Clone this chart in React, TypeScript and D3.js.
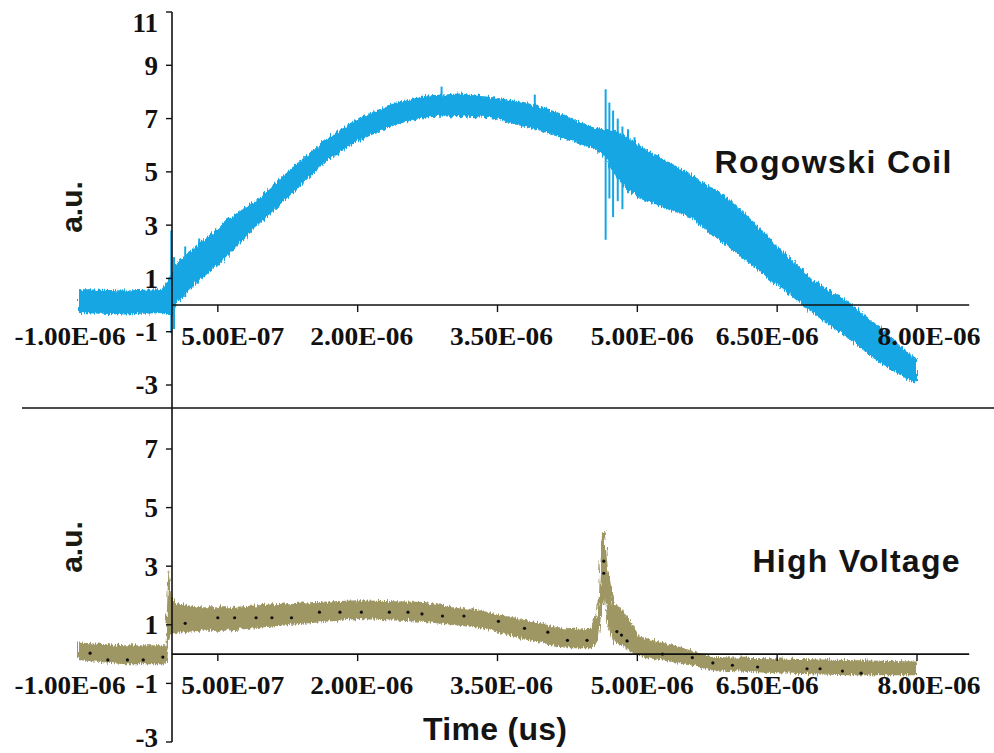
import React from "react";
import * as d3 from "d3";

// time axis (microseconds) and its printed labels
const tickTimes = [-1, 0.5, 2, 3.5, 5, 6.5, 8];
const tickLabels = ["-1.00E-06", "5.00E-07", "2.00E-06", "3.50E-06", "5.00E-06", "6.50E-06", "8.00E-06"];
const labelNudge = [-8, 15, 4, 4, 5, -10, 12];

const topTicks = [-3, -1, 1, 3, 5, 7, 9, 11];
const bottomTicks = [-3, -1, 1, 3, 5, 7];

// Rogowski coil: noisy band, lower / upper envelope
const rogowskiTime = [-1.0, -0.5, -0.1, 0.0, 0.09, 0.3, 0.6, 0.95, 1.3, 1.67, 2.02, 2.38, 2.74, 3.09, 3.45, 3.81, 4.17, 4.52, 4.64, 4.81, 5.02, 5.56, 6.02, 6.5, 6.88, 7.24, 7.6, 7.95, 8.0];
const rogowskiLow = [-0.3, -0.35, -0.3, -0.4, 0.2, 0.9, 1.8, 3.07, 4.2, 5.43, 6.18, 6.74, 7.05, 7.1, 7.0, 6.67, 6.3, 5.9, 5.6, 4.6, 4.0, 3.3, 2.06, 0.75, -0.3, -1.2, -2.17, -2.9, -2.9];
const rogowskiHigh = [0.6, 0.55, 0.6, 1.2, 1.7, 2.3, 3.2, 4.05, 5.17, 6.25, 7.04, 7.57, 7.87, 7.94, 7.8, 7.6, 7.2, 6.67, 6.6, 6.5, 6.0, 4.94, 3.9, 2.25, 0.94, 0.19, -0.82, -1.95, -2.0];
// spikes: time, from, to
const rogowskiSpikeTime = [0.0, 0.03, 0.15, 0.3, 2.9, 3.9, 4.66, 4.7, 4.74, 4.79, 4.84, 4.9, 4.97];
const rogowskiSpikeFrom = [-1.05, -0.9, 0.3, 1.0, 7.5, 7.0, 2.45, 4.0, 3.3, 3.9, 3.6, 4.2, 4.3];
const rogowskiSpikeTo = [2.8, 1.8, 2.2, 2.5, 8.2, 7.9, 8.1, 7.6, 7.3, 7.0, 6.7, 6.6, 6.3];

// High voltage: noisy band
const hvTime = [-1.0, -0.5, -0.06, -0.03, 0.0, 0.05, 0.3, 0.6, 1.3, 2.0, 2.7, 3.3, 3.8, 4.25, 4.5, 4.58, 4.62, 4.65, 4.68, 4.75, 4.85, 5.02, 5.45, 5.8, 6.5, 7.24, 8.0];
const hvLow = [-0.2, -0.35, -0.35, 0.4, 0.7, 0.72, 0.8, 0.8, 1.0, 1.2, 1.1, 0.9, 0.5, 0.2, 0.2, 0.4, 1.5, 2.0, 1.0, 0.4, 0.25, -0.1, -0.3, -0.55, -0.65, -0.72, -0.72];
const hvHigh = [0.4, 0.3, 0.3, 2.9, 2.0, 1.74, 1.6, 1.6, 1.74, 1.84, 1.78, 1.5, 1.16, 0.85, 0.9, 1.5, 4.1, 4.2, 3.0, 1.7, 1.5, 0.6, 0.25, -0.1, -0.15, -0.2, -0.25];
// black sample dots on the voltage trace
const dotTime = [-0.87, -0.68, -0.47, -0.3, -0.09, 0.15, 0.5, 0.68, 0.91, 1.08, 1.29, 1.59, 1.81, 2.04, 2.34, 2.54, 2.69, 2.91, 3.14, 3.51, 3.79, 4.04, 4.25, 4.46, 4.64, 4.64, 4.78, 4.83, 4.89, 5.27, 5.59, 5.81, 6.02, 6.29, 6.82, 6.96, 7.2, 7.4];
const dotValue = [0.03, -0.2, -0.2, -0.2, -0.1, 1.05, 1.24, 1.24, 1.24, 1.24, 1.24, 1.43, 1.43, 1.43, 1.43, 1.43, 1.37, 1.3, 1.3, 1.12, 0.88, 0.75, 0.47, 0.47, 2.76, 3.17, 0.77, 0.65, 0.45, 0.0, -0.12, -0.3, -0.38, -0.44, -0.5, -0.5, -0.58, -0.65];

const W = 994;
const H = 753;
const AXIS_X = 172;
const AXIS_END = 8.56;
const BLUE = "#16a6e4";
const OLIVE = "#9e9664";
const serif = "'Liberation Serif', 'Times New Roman', serif";
const sans = "'Liberation Sans', Arial, sans-serif";

const x = d3.scaleLinear().domain([-1, 8]).range([78, 917]);
const yTop = d3.scaleLinear().domain([-3, 11]).range([385, 12]);
const yBot = d3.scaleLinear().domain([-3, 7]).range([742, 449]);

const band = (t: number[], lo: number[], hi: number[], y: d3.ScaleLinear<number, number>) =>
  d3
    .area<number>()
    .x((i) => x(t[i]))
    .y0((i) => y(lo[i]))
    .y1((i) => y(hi[i]))(d3.range(t.length)) || "";

const Panel = ({ y, ticks }: { y: d3.ScaleLinear<number, number>; ticks: number[] }) => {
  const y0 = y(0);
  return (
    <g>
      <line x1={AXIS_X} x2={x(AXIS_END)} y1={y0} y2={y0} stroke="#111" strokeWidth={1.6} />
      {tickTimes.map((t, i) => (
        <g key={t}>
          {t > 0 && <line x1={x(t)} x2={x(t)} y1={y0} y2={y0 + 7} stroke="#111" strokeWidth={1.4} />}
          <text
            x={x(t) + labelNudge[i]}
            y={y0 + 40}
            textAnchor="middle"
            fontFamily={serif}
            fontWeight="bold"
            fontSize={25}
            fill="#111"
            textLength={i === 0 ? 111 : 103}
            lengthAdjust="spacingAndGlyphs"
          >
            {tickLabels[i]}
          </text>
        </g>
      ))}
      {ticks.map((v) => (
        <g key={v}>
          <line x1={AXIS_X - 6} x2={AXIS_X} y1={y(v)} y2={y(v)} stroke="#111" strokeWidth={1.4} />
          <text
            x={AXIS_X - 14}
            y={Math.min(Math.max(y(v), 23), 738)}
            dy="0.35em"
            textAnchor="end"
            fontFamily={serif}
            fontWeight="bold"
            fontSize={27}
            fill="#111"
          >
            {v}
          </text>
        </g>
      ))}
    </g>
  );
};

const App = () => {
  return (
    <svg width={W} height={H} style={{ position: "absolute", left: 0, top: 0, background: "#fff" }}>
      <defs>
        <filter id="rough" x="-5%" y="-20%" width="110%" height="140%">
          <feTurbulence type="fractalNoise" baseFrequency="0.7 0.08" numOctaves={2} seed={4} />
          <feDisplacementMap in="SourceGraphic" scale={7} xChannelSelector="R" yChannelSelector="G" />
        </filter>
      </defs>

      {/* Rogowski coil trace */}
      <g filter="url(#rough)">
        <path d={band(rogowskiTime, rogowskiLow, rogowskiHigh, yTop)} fill={BLUE} />
      </g>
      {rogowskiSpikeTime.map((t, i) => (
        <line
          key={i}
          x1={x(t)}
          x2={x(t)}
          y1={yTop(rogowskiSpikeFrom[i])}
          y2={yTop(rogowskiSpikeTo[i])}
          stroke={BLUE}
          strokeWidth={2}
        />
      ))}

      {/* High voltage trace */}
      <g filter="url(#rough)">
        <path d={band(hvTime, hvLow, hvHigh, yBot)} fill={OLIVE} />
      </g>
      {dotTime.map((t, i) => (
        <circle key={i} cx={x(t)} cy={yBot(dotValue[i])} r={1.6} fill="#111" />
      ))}

      {/* axes on top of the traces */}
      <Panel y={yTop} ticks={topTicks} />
      <Panel y={yBot} ticks={bottomTicks} />
      <line x1={AXIS_X} x2={AXIS_X} y1={yTop(11)} y2={yBot(-3)} stroke="#111" strokeWidth={1.6} />
      <line x1={22} x2={W} y1={408} y2={408} stroke="#111" strokeWidth={1.6} />

      {/* labels */}
      <text x={833} y={173} textAnchor="middle" fontFamily={sans} fontWeight="bold" fontSize={32} fill="#141414" textLength={237}>
        Rogowski Coil
      </text>
      <text x={856} y={572} textAnchor="middle" fontFamily={sans} fontWeight="bold" fontSize={32} fill="#141414" textLength={207}>
        High Voltage
      </text>
      <text x={495} y={740} textAnchor="middle" fontFamily={sans} fontWeight="bold" fontSize={32} fill="#141414" textLength={144}>
        Time (us)
      </text>
      <text transform="translate(82,207) rotate(-90)" textAnchor="middle" fontFamily={sans} fontWeight="bold" fontSize={30} fill="#1a1a10">
        a.u.
      </text>
      <text transform="translate(82,547) rotate(-90)" textAnchor="middle" fontFamily={sans} fontWeight="bold" fontSize={30} fill="#1a1a10">
        a.u.
      </text>
    </svg>
  );
};

export default App;
